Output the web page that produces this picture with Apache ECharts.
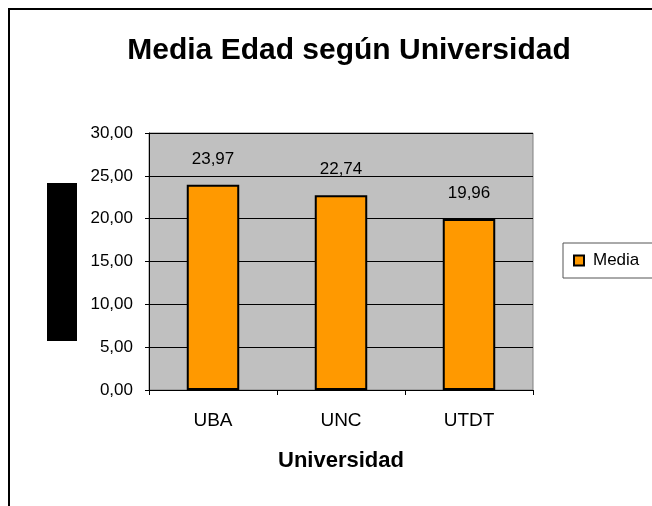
<!DOCTYPE html>
<html><head><meta charset="utf-8">
<script src="https://cdn.jsdelivr.net/npm/echarts@6/dist/echarts.min.js"></script>
<style>html,body{margin:0;padding:0;background:#fff}#c{width:652px;height:506px}</style>
</head><body><div id="c"></div>
<script>
var categories = ['UBA', 'UNC', 'UTDT'];
var media = [23.97, 22.74, 19.96];
var yTicks = [0, 5, 10, 15, 20, 25, 30];

function fmt(v){ return Number(v).toFixed(2).replace('.', ','); }

var FF = 'Liberation Sans, Arial, sans-serif';
var chart = echarts.init(document.getElementById('c'), null, {renderer:'canvas'});
chart.setOption({
  animation: false,
  backgroundColor: '#fff',
  textStyle: {fontFamily: FF},
  title: {
    text: 'Media Edad según Universidad',
    left: 344, top: 31, textAlign: 'center',
    textStyle: {fontSize: 30, fontWeight: 'bold', color: '#000', fontFamily: FF}
  },
  legend: {
    data: ['Media'],
    left: 563, top: 243,
    orient: 'vertical',
    padding: [9, 30, 9, 10],
    borderColor: '#555', borderWidth: 1,
    itemWidth: 10, itemHeight: 10, itemGap: 0,
    icon: 'rect',
    textStyle: {fontSize: 17, color: '#000', fontFamily: FF, padding: [0, 0, 0, 4]}
  },
  grid: {left: 149, top: 133, width: 384, height: 257, show: true, backgroundColor: '#C0C0C0', borderColor: '#808080', borderWidth: 1},
  xAxis: {
    type: 'category', data: categories,
    name: 'Universidad', nameLocation: 'middle', nameGap: 60,
    nameTextStyle: {fontSize: 22, fontWeight: 'bold', color: '#000', fontFamily: FF},
    axisLine: {lineStyle: {color: '#000', width: 1}},
    axisTick: {show: true, length: 5, lineStyle: {color: '#000'}},
    axisLabel: {fontSize: 19, color: '#000', margin: 21, fontFamily: FF}
  },
  yAxis: {
    type: 'value', min: yTicks[0], max: yTicks[yTicks.length-1], interval: 5,
    axisLine: {show: true, lineStyle: {color: '#000'}},
    axisTick: {show: true, length: 4, lineStyle: {color: '#000'}},
    axisLabel: {fontSize: 17, color: '#000', margin: 16, fontFamily: FF, formatter: fmt},
    splitLine: {show: true, lineStyle: {color: '#000', width: 1}}
  },
  series: [{
    name: 'Media', type: 'bar', data: media, barWidth: '41%',
    itemStyle: {color: '#FF9900', borderColor: '#000', borderWidth: 2},
    label: {show: true, position: 'top', distance: 17, fontSize: 17, color: '#000', fontFamily: FF, formatter: function(p){ return fmt(p.value); }}
  }],
  graphic: [
    {type: 'rect', shape: {x: 9, y: 9, width: 720, height: 600}, style: {fill: 'none', stroke: '#000', lineWidth: 2}, silent: true},
    {type: 'rect', shape: {x: 47, y: 183, width: 30, height: 158}, style: {fill: '#000'}, silent: true}
  ]
});
</script></body></html>
